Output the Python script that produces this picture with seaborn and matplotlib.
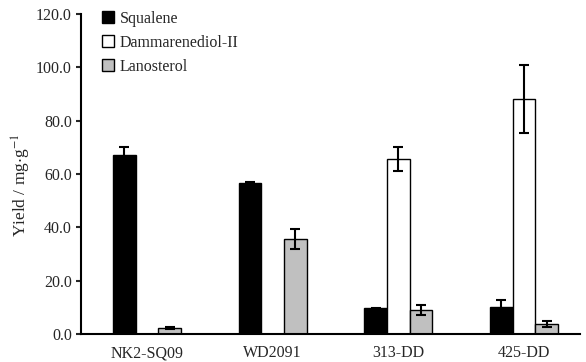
import matplotlib
matplotlib.use("Agg")
import matplotlib.pyplot as plt
import seaborn as sns
import pandas as pd
import numpy as np

strains = ["NK2-SQ09", "WD2091", "313-DD", "425-DD"]
compounds = ["Squalene", "Dammarenediol-II", "Lanosterol"]
squalene = [67.1, 56.5, 9.6, 10.0]
squalene_err = [3.0, 0.5, 0.3, 2.7]
dammarenediol = [np.nan, np.nan, 65.6, 88.1]
dammarenediol_err = [np.nan, np.nan, 4.5, 12.6]
lanosterol = [2.2, 35.5, 9.0, 3.8]
lanosterol_err = [0.5, 3.8, 1.8, 1.2]
yticks = [0, 20, 40, 60, 80, 100, 120]

colors = ["#000000", "#ffffff", "#c0c0c0"]

rows = []
for comp, vals, errs in [("Squalene", squalene, squalene_err),
                         ("Dammarenediol-II", dammarenediol, dammarenediol_err),
                         ("Lanosterol", lanosterol, lanosterol_err)]:
    for s, v, e in zip(strains, vals, errs):
        if not np.isnan(v):
            rows.append({"strain": s, "compound": comp, "yield": v, "err": e})
df = pd.DataFrame(rows)

sns.set_style("ticks")
plt.rcParams["font.family"] = ["Liberation Serif", "DejaVu Serif"]
plt.rcParams["mathtext.fontset"] = "stix"

fig = plt.figure(figsize=(5.86, 3.62), dpi=100)
ax = fig.add_axes([0.1382, 0.0773, 0.8516, 0.884])

sns.barplot(data=df, x="strain", y="yield", hue="compound", order=strains,
            hue_order=compounds, palette=colors, width=0.54, errorbar=None,
            edgecolor="black", linewidth=1.0, ax=ax, saturation=1)

# error bars, positioned from the drawn bars
for cont, comp in zip(ax.containers, compounds):
    sub = df[df["compound"] == comp].set_index("strain")
    for bar in cont:
        xc = bar.get_x() + bar.get_width() / 2
        idx = int(round(xc))
        s = strains[idx]
        if s in sub.index:
            ax.errorbar(xc, sub.loc[s, "yield"], yerr=sub.loc[s, "err"],
                        fmt="none", ecolor="black", elinewidth=1.5,
                        capsize=3.3, capthick=1.5, zorder=5)

ax.set_xlim(-0.525, 3.445)
ax.set_ylim(0, 120)
ax.set_yticks(yticks)
ax.set_yticklabels([f"{t:.1f}" for t in yticks], fontsize=11.5)
ax.set_xticks(range(len(strains)))
ax.set_xticklabels(strains, fontsize=11.5)
ax.tick_params(axis="x", length=0, pad=8)
ax.tick_params(axis="y", length=3.5, width=1.5, direction="out", pad=3)
ax.set_xlabel("")
ax.set_ylabel(r"Yield / mg$\cdot$g$^{-1}$", fontsize=12.5)
ax.yaxis.set_label_coords(-0.097, 0.466)

for sp in ["top", "right"]:
    ax.spines[sp].set_visible(False)
for sp in ["left", "bottom"]:
    ax.spines[sp].set_linewidth(1.5)
    ax.spines[sp].set_color("black")

leg = ax.legend(loc="upper left", bbox_to_anchor=(0.03, 1.03), frameon=False,
                fontsize=11.5, handlelength=0.75, handleheight=0.75,
                handletextpad=0.35, labelspacing=0.5, borderaxespad=0)

fig.savefig("out.png", dpi=100)
